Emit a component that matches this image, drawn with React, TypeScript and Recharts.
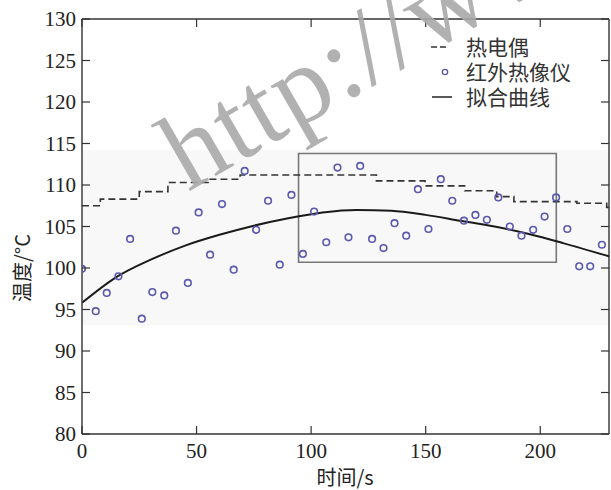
import {
  ComposedChart,
  Line,
  Scatter,
  XAxis,
  YAxis,
  ReferenceArea,
  ReferenceLine,
} from "recharts"

// thermocouple readings (stepped)
const tcTime = [0, 8, 25, 37.5, 55, 69, 128.5, 149.7, 167, 181, 188.5, 216, 229, 230]
const tcTemp = [107.5, 108.3, 109.2, 110.3, 110.7, 111.2, 110.5, 109.9, 109.3, 108.6, 108.0, 107.8, 107.3, 107.3]

// infrared camera samples
const irTime = [
  0, 6.0, 10.8, 15.9, 21.0, 26.1, 30.7, 35.9, 41.0, 46.2,
  50.9, 55.9, 61.1, 66.2, 71.0, 76.0, 81.2, 86.3, 91.4, 96.4,
  101.3, 106.6, 111.5, 116.3, 121.4, 126.6, 131.6, 136.4, 141.5, 146.6,
  151.2, 156.6, 161.6, 166.7, 171.7, 176.7, 181.7, 186.7, 191.8, 196.9,
  201.9, 206.9, 211.8, 217.0, 221.8, 226.9,
]
const irTemp = [
  99.9, 94.8, 97.0, 99.0, 103.5, 93.9, 97.1, 96.7, 104.5, 98.2,
  106.7, 101.6, 107.7, 99.8, 111.7, 104.6, 108.1, 100.4, 108.8, 101.7,
  106.8, 103.1, 112.1, 103.7, 112.3, 103.5, 102.4, 105.4, 103.9, 109.5,
  104.7, 110.7, 108.1, 105.7, 106.4, 105.8, 108.5, 105.0, 103.9, 104.6,
  106.2, 108.5, 104.7, 100.2, 100.2, 102.8,
]

// fitted curve
const fitTime = [0, 15, 30, 45, 60, 75, 90, 105, 120, 135, 150, 165, 180, 195, 210, 230]
const fitTemp = [95.8, 98.9, 101.0, 102.7, 104.0, 105.1, 106.0, 106.7, 107.0, 106.9, 106.4, 105.7, 105.0, 104.1, 103.0, 101.4]

const xTicks = [0, 50, 100, 150, 200]
const yTicks = [80, 85, 90, 95, 100, 105, 110, 115, 120, 125, 130]

const tcData = tcTime.map((time, i) => ({ time, temp: tcTemp[i] }))
const irData = irTime.map((time, i) => ({ time, temp: irTemp[i] }))
const fitData = fitTime.map((time, i) => ({ time, temp: fitTemp[i] }))

const PLOT = { left: 82, right: 609, top: 19, bottom: 434 }
const SERIF = '"Liberation Serif", "Times New Roman", serif'
const CJK = '"Noto Sans CJK SC", sans-serif'
const AXIS = "#333"
const DOT = "#5a5aad"
const TICK_LEN = 8

function XTick({ x, payload }: any) {
  return (
    <g>
      <line x1={x} x2={x} y1={PLOT.bottom} y2={PLOT.bottom - TICK_LEN} stroke={AXIS} strokeWidth={1.2} />
      <line x1={x} x2={x} y1={PLOT.top} y2={PLOT.top + TICK_LEN} stroke={AXIS} strokeWidth={1.2} />
      <text x={x} y={PLOT.bottom + 24} textAnchor="middle" fontSize={21} fontFamily={SERIF} fill="#222">
        {payload.value}
      </text>
    </g>
  )
}

function YTick({ y, payload }: any) {
  return (
    <g>
      <line x1={PLOT.left} x2={PLOT.left + TICK_LEN} y1={y} y2={y} stroke={AXIS} strokeWidth={1.2} />
      <line x1={PLOT.right} x2={PLOT.right - TICK_LEN} y1={y} y2={y} stroke={AXIS} strokeWidth={1.2} />
      <text x={PLOT.left - 6} y={y + 7} textAnchor="end" fontSize={21} fontFamily={SERIF} fill="#222">
        {payload.value}
      </text>
    </g>
  )
}

function Ring({ cx, cy }: any) {
  return <circle cx={cx} cy={cy} r={3.3} fill="none" stroke={DOT} strokeWidth={1.6} />
}

export default function App() {
  return (
    <div style={{ position: "absolute", left: 0, top: 0, width: 611, height: 490, background: "#fff" }}>
      <ComposedChart width={611} height={490} margin={{ top: 19, right: 2, left: 0, bottom: 0 }}>
        <XAxis
          dataKey="time"
          type="number"
          domain={[0, 230]}
          ticks={xTicks}
          height={56}
          tickLine={false}
          axisLine={{ stroke: AXIS, strokeWidth: 1.4 }}
          tick={<XTick />}
          allowDataOverflow
        />
        <YAxis
          type="number"
          domain={[80, 130]}
          ticks={yTicks}
          width={82}
          tickLine={false}
          axisLine={{ stroke: AXIS, strokeWidth: 1.4 }}
          tick={<YTick />}
          allowDataOverflow
        />
        <ReferenceArea y1={93.1} y2={114.2} fill="#f8f8f8" fillOpacity={1} stroke="none" />
        <ReferenceLine y={130} stroke={AXIS} strokeWidth={1.4} />
        <ReferenceLine x={230} stroke={AXIS} strokeWidth={1.4} />
        <ReferenceArea
          x1={94.5}
          x2={207}
          y1={100.7}
          y2={113.8}
          fill="none"
          stroke="#777"
          strokeWidth={1.6}
        />
        <Line
          data={tcData}
          dataKey="temp"
          type="stepAfter"
          stroke="#333"
          strokeWidth={1.6}
          strokeDasharray="7 4"
          dot={false}
          isAnimationActive={false}
        />
        <Line
          data={fitData}
          dataKey="temp"
          type="monotone"
          stroke="#1a1a1a"
          strokeWidth={2}
          dot={false}
          isAnimationActive={false}
        />
        <Scatter data={irData} dataKey="temp" shape={<Ring />} isAnimationActive={false} />
      </ComposedChart>

      <svg width={611} height={490} style={{ position: "absolute", left: 0, top: 0, pointerEvents: "none" }}>
        <text
          x={21}
          y={268}
          transform="rotate(-90 21 268)"
          textAnchor="middle"
          dominantBaseline="central"
          fontSize={20}
          fontFamily={CJK}
          fill="#222"
        >
          温度/°C
        </text>
        <text x={345} y={485} textAnchor="middle" fontSize={20} fontFamily={CJK} fill="#222">
          时间/s
        </text>

        <line x1={431} x2={447} y1={47} y2={47} stroke="#333" strokeWidth={1.5} strokeDasharray="6 3" />
        <circle cx={445} cy={72} r={2.6} fill="none" stroke={DOT} strokeWidth={1.4} />
        <line x1={432} x2={452} y1={97} y2={97} stroke="#222" strokeWidth={1.5} />
        <text x={466} y={55} fontSize={21} fontFamily={CJK} fill="#333">热电偶</text>
        <text x={466} y={80} fontSize={21} fontFamily={CJK} fill="#333">红外热像仪</text>
        <text x={466} y={105} fontSize={21} fontFamily={CJK} fill="#333">拟合曲线</text>

        {/* watermark */}
        <text
          x={188}
          y={192}
          transform="rotate(-30 188 192)"
          fontSize={110}
          fontFamily={SERIF}
          fill="#a8a8a8"
          fillOpacity={0.9}
          letterSpacing={2}
        >
          http://www
        </text>
      </svg>
    </div>
  )
}
